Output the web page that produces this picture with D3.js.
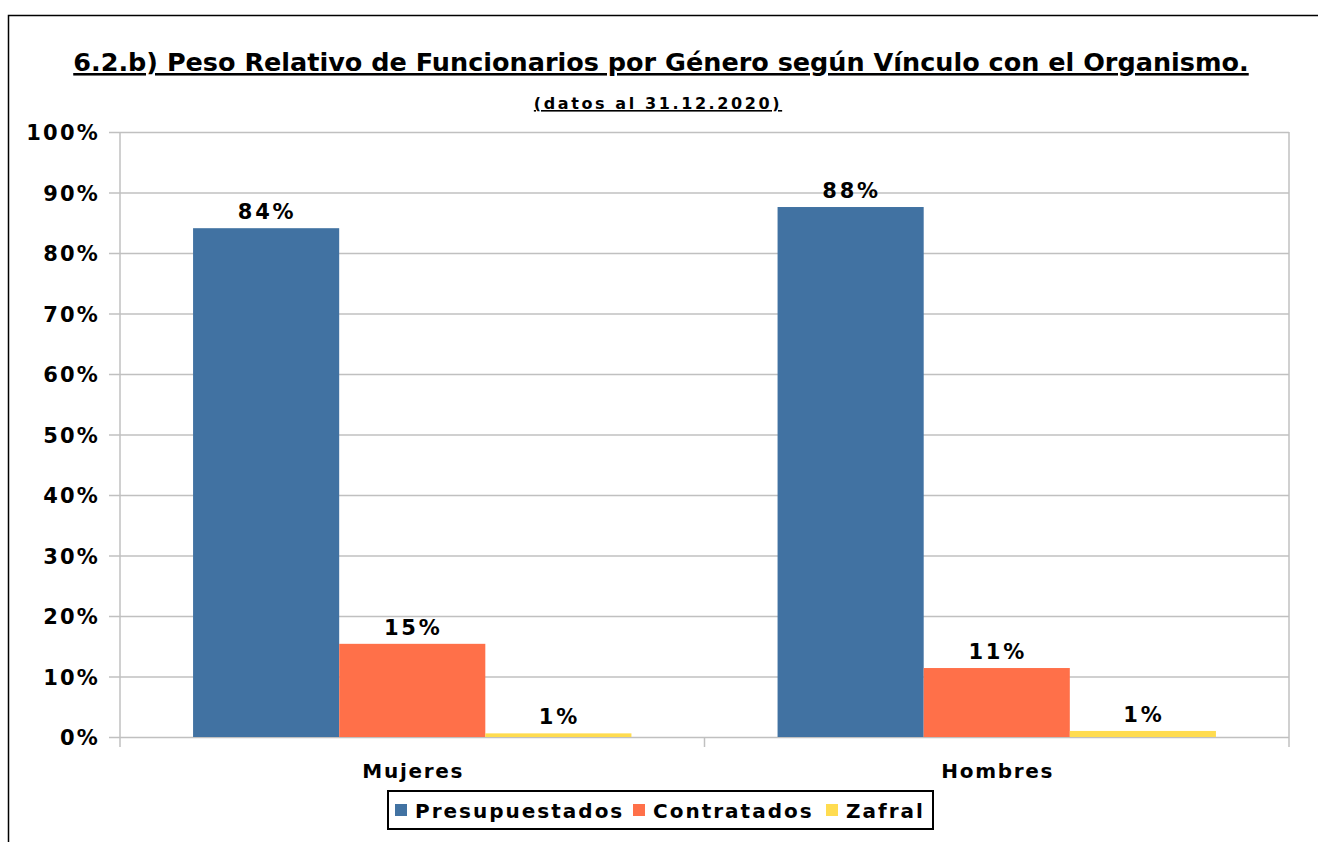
<!DOCTYPE html>
<html><head><meta charset="utf-8">
<script src="https://cdn.jsdelivr.net/npm/d3@7"></script>
<style>
body{margin:0;background:#fff;}
text{font-family:"DejaVu Sans",Verdana,sans-serif;font-weight:bold;fill:#000;}
</style></head>
<body><svg id="c" width="1318" height="842"></svg>
<script>
const categories = ["Mujeres","Hombres"];
const seriesNames = ["Presupuestados","Contratados","Zafral"];
const presupuestados = [84.1, 87.6];
const contratados = [15.4, 11.4];
const zafral = [0.6, 1.0];
const valueLabels = [["84%","15%","1%"],["88%","11%","1%"]];
const colors = ["#4172A2","#FF7049","#FFDC50"];
const yTicks = [0,10,20,30,40,50,60,70,80,90,100];

const svg = d3.select("#c");
svg.append("path").attr("d","M8.5,842 V15.5 H1318").attr("fill","none").attr("stroke","#000").attr("stroke-width",1.5);

const L=120, R=1289, T=132, B=737;
const x0 = d3.scaleBand().domain(categories).range([L,R]).paddingInner(0).paddingOuter(0);
const x1 = d3.scaleBand().domain(seriesNames).range([x0.bandwidth()*0.125, x0.bandwidth()*0.875]);
const y = d3.scaleLinear().domain([0,100]).range([B,T]);

svg.append("g").selectAll("line").data(yTicks).join("line")
  .attr("x1",L-11).attr("x2",R).attr("y1",d=>y(d)+0.5).attr("y2",d=>y(d)+0.5)
  .attr("stroke","#c0c0c0").attr("stroke-width",1.5);
svg.append("line").attr("x1",L).attr("x2",L).attr("y1",T).attr("y2",B+10).attr("stroke","#c0c0c0").attr("stroke-width",1.5);
svg.append("line").attr("x1",R).attr("x2",R).attr("y1",T).attr("y2",B+10).attr("stroke","#c0c0c0").attr("stroke-width",1.5);
svg.append("line").attr("x1",x0(categories[1])).attr("x2",x0(categories[1])).attr("y1",B).attr("y2",B+10).attr("stroke","#c0c0c0").attr("stroke-width",1.5);

const yAxis = d3.axisLeft(y).tickValues(yTicks).tickFormat(d=>d+"%").tickSize(0).tickPadding(20);
const ga = svg.append("g").attr("transform",`translate(${L},0)`).call(yAxis);
ga.select(".domain").remove();
ga.selectAll("text").attr("font-size",21).attr("font-family","DejaVu Sans").attr("font-weight","bold").attr("fill","#000").attr("dy","0.36em").attr("letter-spacing","2.2");

const data = categories.map((c,i)=>({cat:c, vals:[presupuestados[i],contratados[i],zafral[i]], labels:valueLabels[i]}));
const g = svg.append("g");
data.forEach(d=>{
  const gg = g.append("g").attr("transform",`translate(${x0(d.cat)},0)`);
  d.vals.forEach((v,j)=>{
    gg.append("rect").attr("x",x1(seriesNames[j])).attr("width",x1.bandwidth())
      .attr("y",y(v)).attr("height",B-y(v)).attr("fill",colors[j]);
    gg.append("text").attr("x",x1(seriesNames[j])+x1.bandwidth()/2+1).attr("y",y(v)-9)
      .attr("text-anchor","middle").attr("font-size",21).attr("letter-spacing","2.8").text(d.labels[j]);
  });
  svg.append("text").attr("x",x0(d.cat)+x0.bandwidth()/2+1).attr("y",778).attr("text-anchor","middle")
    .attr("font-size",20).attr("letter-spacing","1.7").text(d.cat);
});

svg.append("text").attr("x",661).attr("y",71).attr("text-anchor","middle").attr("font-size",25.5)
  .attr("text-decoration","underline").text("6.2.b) Peso Relativo de Funcionarios por Género según Vínculo con el Organismo.");
svg.append("text").attr("x",658).attr("y",109).attr("text-anchor","middle").attr("font-size",16)
  .attr("letter-spacing","2.6").attr("text-decoration","underline").text("(datos al 31.12.2020)");

const lg = svg.append("g");
lg.append("rect").attr("x",388).attr("y",791).attr("width",545).attr("height",38).attr("fill","#fff").attr("stroke","#000").attr("stroke-width",2);
const lx = [395, 633, 826];
seriesNames.forEach((s,j)=>{
  lg.append("rect").attr("x",lx[j]).attr("y",804).attr("width",12).attr("height",12).attr("fill",colors[j]);
  lg.append("text").attr("x",lx[j]+20).attr("y",818).attr("font-size",20).attr("letter-spacing","2").text(s);
});
</script></body></html>
